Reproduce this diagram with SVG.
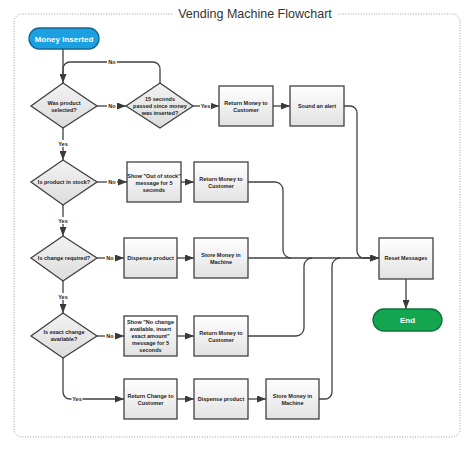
<svg xmlns="http://www.w3.org/2000/svg" width="474" height="452" viewBox="0 0 474 452">
<defs>
<linearGradient id="gBox" x1="0" y1="0" x2="0" y2="1"><stop offset="0" stop-color="#ffffff"/><stop offset="1" stop-color="#e2e2e2"/></linearGradient>
<linearGradient id="gDia" x1="0" y1="0" x2="0" y2="1"><stop offset="0" stop-color="#f2f2f2"/><stop offset="1" stop-color="#dcdcdc"/></linearGradient>
<marker id="ah" markerUnits="userSpaceOnUse" markerWidth="9" markerHeight="7" refX="9" refY="3.5" orient="auto"><path d="M0,0 L9,3.5 L0,7 z" fill="#3a3a3a"/></marker>
</defs>
<style>
.box{fill:url(#gBox);stroke:#404040;stroke-width:1.3}
.dia{fill:url(#gDia);stroke:#404040;stroke-width:1.3}
.t{font-family:"Liberation Sans",Arial,sans-serif;font-size:5.5px;font-weight:bold;fill:#222;text-anchor:middle}
.c{fill:none;stroke:#404040;stroke-width:1.3}
.a{marker-end:url(#ah)}
.lb{font-family:"Liberation Sans",Arial,sans-serif;font-size:5.5px;font-weight:bold;fill:#222;text-anchor:middle}
.lbg{fill:#ffffff}
.term{font-family:"Liberation Sans",Arial,sans-serif;font-size:8px;font-weight:bold;fill:#ffffff;text-anchor:middle}
</style>
<rect width="474" height="452" fill="#ffffff"/>
<path d="M172,14 H22 A8,8 0 0 0 14,22 V429 A8,8 0 0 0 22,437 H452 A8,8 0 0 0 460,429 V22 A8,8 0 0 0 452,14 H338" fill="none" stroke="#9a9a9a" stroke-width="1" stroke-dasharray="1,1.6"/>
<text x="255" y="18" font-family="'Liberation Sans',Arial,sans-serif" font-size="12.5" fill="#333" text-anchor="middle">Vending Machine Flowchart</text>

<g id="connectors">
<path class="c a" d="M63,49 V83"/>
<path class="c" d="M160,83 V69 A7,7 0 0 0 153,62 H70 A7,7 0 0 0 63,69 V76"/>
<path class="c a" d="M97,106 H126"/>
<path class="c a" d="M193,106 H219"/>
<path class="c a" d="M273,106 H290"/>
<path class="c a" d="M344,106 H350 A7,7 0 0 1 357,113 V251 A7,7 0 0 0 364,258 H379"/>
<path class="c a" d="M63,128 V160"/>
<path class="c a" d="M97,182 H127"/>
<path class="c a" d="M181,182 H194"/>
<path class="c" d="M248,182 H275 A8,8 0 0 1 283,190 V250 A8,8 0 0 0 291,258"/>
<path class="c a" d="M63,205 V236"/>
<path class="c a" d="M97,258 H124"/>
<path class="c a" d="M177,258 H194"/>
<path class="c a" d="M248,258 H379"/>
<path class="c a" d="M63,281 V313"/>
<path class="c a" d="M97,336 H124"/>
<path class="c a" d="M177,336 H194"/>
<path class="c" d="M248,336 H296 A8,8 0 0 0 304,328 V266 A8,8 0 0 1 312,258"/>
<path class="c a" d="M63,358 V392 A7,7 0 0 0 70,399 H124"/>
<path class="c a" d="M177,399 H194"/>
<path class="c a" d="M248,399 H266"/>
<path class="c" d="M319,399 H325 A7,7 0 0 0 332,392 V266 A8,8 0 0 1 340,258"/>
<path class="c a" d="M406,279 V309"/>
<g id="labels">
<rect class="lbg" x="107" y="58" width="10" height="7"/><text class="lb" x="112" y="64">No</text>
<rect class="lbg" x="107" y="102" width="10" height="7"/><text class="lb" x="112" y="108">No</text>
<rect class="lbg" x="200" y="102" width="11" height="7"/><text class="lb" x="205.5" y="108">Yes</text>
<rect class="lbg" x="57.5" y="140" width="11" height="7"/><text class="lb" x="63" y="146">Yes</text>
<rect class="lbg" x="107" y="178" width="10" height="7"/><text class="lb" x="112" y="184">No</text>
<rect class="lbg" x="57.5" y="217" width="11" height="7"/><text class="lb" x="63" y="223">Yes</text>
<rect class="lbg" x="105" y="254" width="10" height="7"/><text class="lb" x="110" y="260">No</text>
<rect class="lbg" x="57.5" y="293" width="11" height="7"/><text class="lb" x="63" y="299">Yes</text>
<rect class="lbg" x="105" y="332" width="10" height="7"/><text class="lb" x="110" y="338">No</text>
<rect class="lbg" x="71.5" y="395" width="11" height="7"/><text class="lb" x="77" y="401">Yes</text>
</g>
</g>

<g id="money-inserted"><rect x="29" y="28" width="70" height="21" rx="10.5" fill="#1ba1e2" stroke="#15658f" stroke-width="1.3"/><text class="term" x="64" y="41.5">Money Inserted</text></g>
<g id="was-product-selected"><polygon class="dia" points="63,83 97,106 63,128 31,106"/><text class="t" x="64" y="104.5">Was product</text><text class="t" x="64" y="111.5">selected?</text></g>
<g id="fifteen-seconds"><polygon class="dia" points="160,83 193,106 160,128 126,106"/><text class="t" x="160" y="101">15 seconds</text><text class="t" x="160" y="108">passed since money</text><text class="t" x="160" y="115">was inserted?</text></g>
<g id="return-money-1"><rect class="box" x="219" y="86" width="54" height="40"/><text class="t" x="246" y="104.5">Return Money to</text><text class="t" x="246" y="111.5">Customer</text></g>
<g id="sound-alert"><rect class="box" x="290" y="86" width="54" height="40"/><text class="t" x="317" y="108">Sound an alert</text></g>
<g id="in-stock"><polygon class="dia" points="63,160 97,182 63,205 31,182"/><text class="t" x="64" y="184">Is product in stock?</text></g>
<g id="out-of-stock"><rect class="box" x="127" y="162" width="54" height="40"/><text class="t" x="154" y="177.5">Show "Out of stock"</text><text class="t" x="154" y="184.5">message for 5</text><text class="t" x="154" y="191.5">seconds</text></g>
<g id="return-money-2"><rect class="box" x="194" y="162" width="54" height="40"/><text class="t" x="221" y="180.5">Return Money to</text><text class="t" x="221" y="187.5">Customer</text></g>
<g id="change-required"><polygon class="dia" points="63,236 97,258 63,281 31,258"/><text class="t" x="64" y="260">Is change required?</text></g>
<g id="dispense-1"><rect class="box" x="124" y="238" width="53" height="40"/><text class="t" x="150.5" y="260">Dispense product</text></g>
<g id="store-money-1"><rect class="box" x="194" y="238" width="54" height="40"/><text class="t" x="221" y="256.5">Store Money in</text><text class="t" x="221" y="263.5">Machine</text></g>
<g id="reset-messages"><rect class="box" x="379" y="238" width="54" height="41"/><text class="t" x="406" y="260">Reset Messages</text></g>
<g id="end"><rect x="373" y="309" width="69" height="22" rx="11" fill="#13a550" stroke="#0c7437" stroke-width="1.3"/><text class="term" x="407.5" y="323">End</text></g>
<g id="exact-change"><polygon class="dia" points="63,313 97,336 63,358 31,336"/><text class="t" x="64" y="333.5">Is exact change</text><text class="t" x="64" y="340.5">available?</text></g>
<g id="no-change"><rect class="box" x="124" y="316" width="53" height="40"/><text class="t" x="150.5" y="323.5">Show "No change</text><text class="t" x="150.5" y="330.5">available, insert</text><text class="t" x="150.5" y="337.5">exact amount"</text><text class="t" x="150.5" y="344.5">message for 5</text><text class="t" x="150.5" y="351.5">seconds</text></g>
<g id="return-money-3"><rect class="box" x="194" y="316" width="54" height="40"/><text class="t" x="221" y="334.5">Return Money to</text><text class="t" x="221" y="341.5">Customer</text></g>
<g id="return-change"><rect class="box" x="124" y="379" width="53" height="40"/><text class="t" x="150.5" y="397.5">Return Change to</text><text class="t" x="150.5" y="404.5">Customer</text></g>
<g id="dispense-2"><rect class="box" x="194" y="379" width="54" height="40"/><text class="t" x="221" y="401">Dispense product</text></g>
<g id="store-money-2"><rect class="box" x="266" y="379" width="53" height="40"/><text class="t" x="292.5" y="397.5">Store Money in</text><text class="t" x="292.5" y="404.5">Machine</text></g>
</svg>
